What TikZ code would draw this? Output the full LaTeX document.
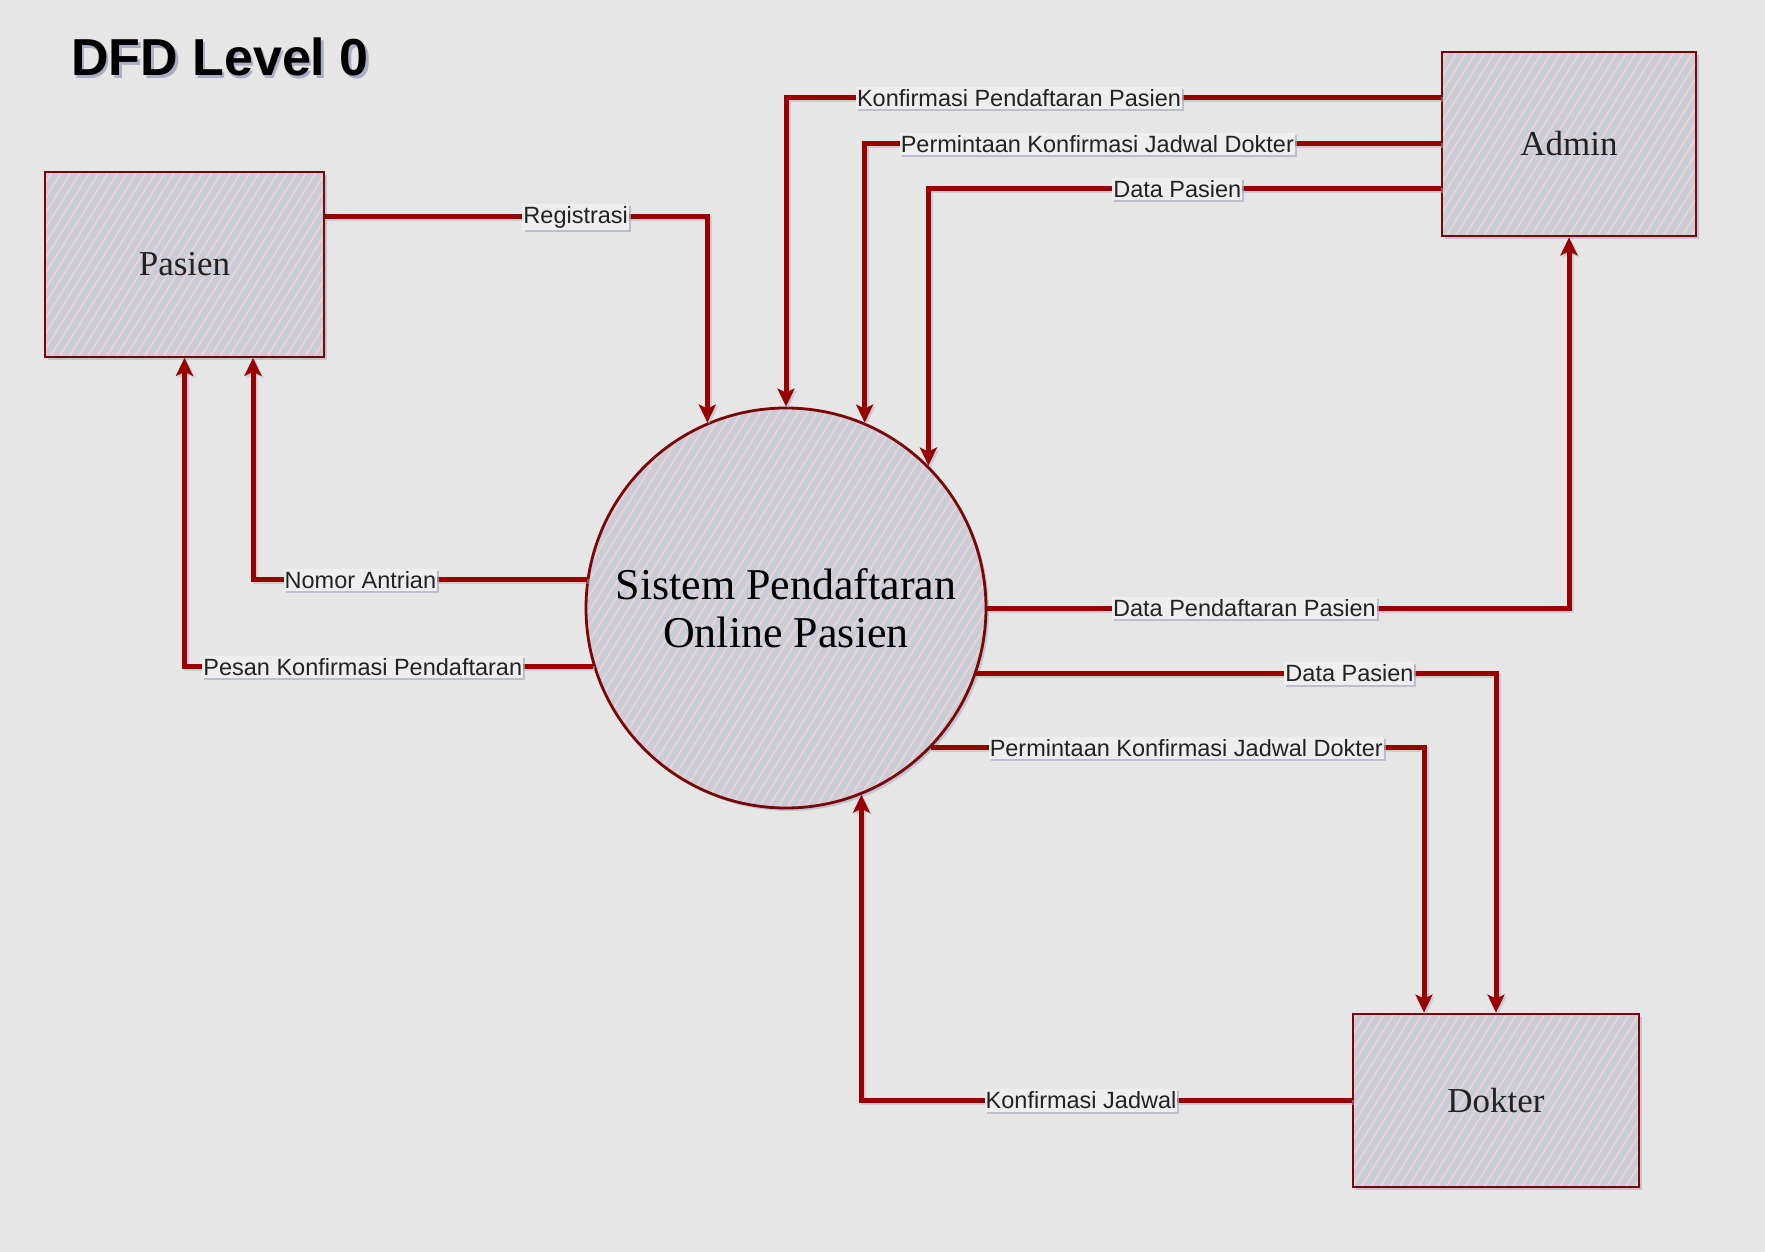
\documentclass[tikz,border=0pt]{standalone}
\usepackage{fontspec}
\setmainfont{Liberation Serif}
\setsansfont{Liberation Sans}
\usetikzlibrary{arrows.meta,shadows,patterns.meta}
\definecolor{bg}{HTML}{E6E6E6}
\definecolor{flowred}{HTML}{990000}
\definecolor{edgered}{HTML}{7A0606}
\definecolor{nodefill}{HTML}{C9CDD7}
\definecolor{stripe}{HTML}{EFD3D5}
\definecolor{lblfill}{HTML}{EEEEEE}
\definecolor{shade}{HTML}{A9AEC4}
\definecolor{txt}{HTML}{222222}
\begin{document}
\begin{tikzpicture}[x=1pt,y=-1pt,
  entity/.style={draw=edgered, line width=2.8pt,
    drop shadow={shadow xshift=3pt,shadow yshift=-3pt,fill=shade,opacity=0.6},
    preaction={fill=nodefill},
    pattern={Lines[angle=58,distance=8pt,line width=1.6pt]}, pattern color=stripe,
    font=\fontsize{35}{40}\selectfont, text=txt, inner sep=0pt},
  box/.style={entity, rectangle},
  proc/.style={entity, circle, align=center, font=\fontsize{44}{48}\selectfont, text=black},
  flow/.style={draw=flowred, line width=5pt, line join=miter,
    -{Stealth[length=18pt,width=17pt,inset=4pt]},
    preaction={draw=shade, opacity=0.45, line width=5pt,
      -{Stealth[length=18pt,width=17pt,inset=4pt]},
      transform canvas={shift={(2pt,-2pt)}}}},
  lbl/.style={fill=lblfill, inner xsep=1pt, inner ysep=2.5pt,
    font=\sffamily\fontsize{23.5}{26}\selectfont, text=txt,
    drop shadow={shadow xshift=2pt,shadow yshift=-2pt,fill=shade,opacity=0.7}},
  ttl/.style={anchor=base west, inner sep=0pt, font=\sffamily\bfseries\fontsize{52}{60}\selectfont}
]
\fill[bg] (0,0) rectangle (1765,1252);
\useasboundingbox (0,0) rectangle (1765,1252);

\node[ttl, text=shade] (titleshadow) at (73.5,79) {DFD Level 0};
\node[ttl, text=black] (title) at (71,76) {DFD Level 0};

\node[box, minimum width=279pt, minimum height=185pt] (pasien) at (184.5,264.5) {Pasien};
\node[box, minimum width=254pt, minimum height=184pt] (admin) at (1569,144) {Admin};
\node[box, minimum width=286pt, minimum height=173pt] (dokter) at (1496,1100.5) {Dokter};
\node[proc, minimum size=400pt] (proc) at (786,608) {Sistem Pendaftaran\\Online Pasien};

% Pasien -> proc
\draw[flow] ([yshift=47.5pt]pasien.east) -| node[lbl,pos=0.328] (l1) {Registrasi} (proc.113.3);
% Admin -> proc
\draw[flow] ([yshift=46pt]admin.west) -| node[lbl,pos=0.322] (l2) {Konfirmasi Pendaftaran Pasien} (proc.90);
\draw[flow] (admin.west) -| node[lbl,pos=0.298] (l3) {Permintaan Konfirmasi Jadwal Dokter} (proc.67.4);
\draw[flow] ([yshift=-45pt]admin.west) -| node[lbl,pos=0.257] (l4) {Data Pasien} (proc.45.6);
% proc -> Pasien
\draw[flow] (proc.172.2) -| node[lbl,pos=0.339] (l5) {Nomor Antrian} ([xshift=68.5pt]pasien.south);
\draw[flow] (proc.197.5) -| node[lbl,pos=0.282] (l6) {Pesan Konfirmasi Pendaftaran} (pasien.south);
% proc -> Admin
\draw[flow] (proc.east) -| node[lbl,pos=0.221] (l7) {Data Pendaftaran Pasien} (admin.south);
% proc -> Dokter
\draw[flow] (proc.-19.27) -| node[lbl,pos=0.359] (l8) {Data Pasien} (dokter.north);
\draw[flow] (proc.-44) -| node[lbl,pos=0.259] (l9) {Permintaan Konfirmasi Jadwal Dokter} ([xshift=-72pt]dokter.north);
% Dokter -> proc
\draw[flow] (dokter.west) -| node[lbl,pos=0.276] (l10) {Konfirmasi Jadwal} (proc.-68.6);
\end{tikzpicture}
\end{document}
